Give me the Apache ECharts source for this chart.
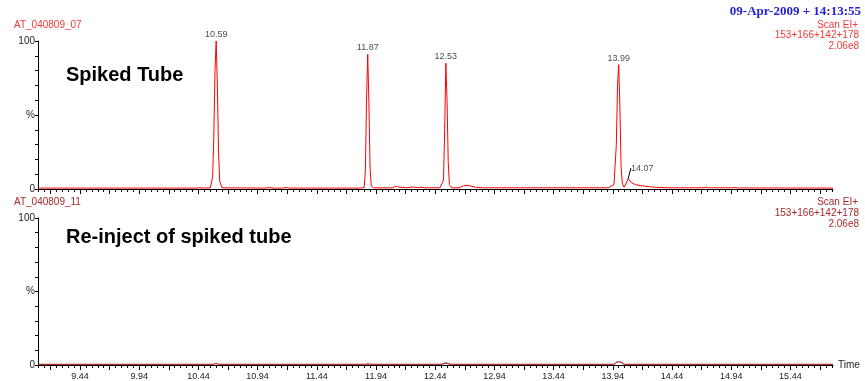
<!DOCTYPE html>
<html>
<head>
<meta charset="utf-8">
<script src="https://cdn.jsdelivr.net/npm/echarts@6/dist/echarts.min.js"></script>
<style>
  html, body { margin: 0; padding: 0; background: #fff; }
  #chart { width: 865px; height: 381px; }
</style>
</head>
<body>
<div id="chart"></div>
<script>
  // spiked tube trace (time in min, % of 2.06e8)
  var topTimes = [9.09, 9.50, 10.00, 10.42, 10.45, 10.48, 10.54, 10.56, 10.57, 10.58, 10.59, 10.60, 10.61, 10.62, 10.64,
    11.00, 11.04, 11.07, 11.15, 11.18, 11.21, 11.80, 11.84, 11.85, 11.86, 11.87, 11.88, 11.89, 11.90, 11.92,
    12.08, 12.11, 12.14, 12.20, 12.25, 12.29, 12.32, 12.35, 12.38, 12.48, 12.51, 12.52, 12.53, 12.54, 12.55, 12.56, 12.58,
    12.64, 12.68, 12.71, 12.74, 12.78, 12.84, 13.00, 13.90, 13.95, 13.97, 13.98, 13.99, 14.00, 14.01, 14.02, 14.035,
    14.05, 14.06, 14.07, 14.085, 14.10, 14.13, 14.17, 14.21, 14.25, 14.29, 14.40, 14.70, 14.72, 14.75, 14.94, 14.97, 15.00, 15.80];
  var topValues = [0.6, 0.6, 0.6, 0.6, 0.9, 0.6, 0.8, 8, 35, 80, 100, 70, 25, 5, 0.8,
    0.6, 1.0, 0.6, 0.6, 1.0, 0.6, 0.6, 1.0, 12, 60, 91, 58, 14, 2, 0.8,
    0.8, 1.8, 1.2, 0.8, 1.4, 1.0, 1.2, 0.8, 0.8, 0.8, 6, 40, 85, 60, 18, 3, 0.8,
    0.8, 2.2, 2.6, 2.0, 1.2, 0.8, 0.8, 0.8, 3, 30, 70, 84, 55, 15, 4, 1.2,
    2.5, 5, 7, 6, 4.2, 3.0, 2.3, 1.9, 1.6, 1.2, 0.8, 0.8, 1.1, 0.8, 0.8, 1.0, 0.7, 0.6];
  // re-injection trace
  var botTimes = [9.09, 10.56, 10.59, 10.62, 11.84, 11.87, 11.90, 12.49, 12.53, 12.57, 13.95, 13.97, 13.99, 14.01, 14.04, 15.80];
  var botValues = [0.4, 0.4, 1.0, 0.4, 0.4, 0.8, 0.4, 0.4, 1.4, 0.4, 0.4, 1.8, 2.4, 1.8, 0.4, 0.4];
  // labelled peaks
  var peakTimes = [10.59, 11.87, 12.53, 13.99];
  var peakValues = [100, 91, 85, 84];
  var smallPeak = [14.07, 7];
  // x tick labels
  var xLabels = [9.44, 9.94, 10.44, 10.94, 11.44, 11.94, 12.44, 12.94, 13.44, 13.94, 14.44, 14.94, 15.44];

  var xMin = 9.085, xMax = 15.80;
  var majorTicks = [];
  xLabels.forEach(function (v) { majorTicks.push(v, +(v + 0.25).toFixed(2)); });
  majorTicks.unshift(9.19);
  var minorTicks = [];
  for (var k = -7; k <= 127; k++) minorTicks.push(+(9.44 + k * 0.05).toFixed(2));

  function zip(a, b) { return a.map(function (t, i) { return [t, b[i]]; }); }

  function majorAxis(grid, showLabels) {
    return {
      type: 'value', gridIndex: grid, min: xMin, max: xMax, position: 'bottom',
      name: showLabels ? 'Time' : '', nameLocation: 'end', nameGap: 5,
      nameTextStyle: { fontSize: 10, color: '#222', fontFamily: 'Liberation Sans' },
      axisLine: { lineStyle: { color: '#000', width: 1 } },
      axisTick: { show: true, length: 5, customValues: majorTicks, lineStyle: { color: '#000' } },
      axisLabel: { show: showLabels, customValues: xLabels, fontSize: 9, color: '#222', margin: 7,
        fontFamily: 'Liberation Sans', formatter: function (v) { return v.toFixed(2); } },
      splitLine: { show: false }
    };
  }
  function minorAxis(grid) {
    return {
      type: 'value', gridIndex: grid, min: xMin, max: xMax, position: 'bottom',
      axisLine: { show: false },
      axisTick: { show: true, length: 3, customValues: minorTicks, lineStyle: { color: '#000' } },
      axisLabel: { show: false }, splitLine: { show: false }
    };
  }
  function yAxis(grid) {
    return {
      type: 'value', gridIndex: grid, min: 0, max: 100, interval: 10,
      axisLine: { show: true, lineStyle: { color: '#000' } },
      axisTick: { show: true, length: 3, lineStyle: { color: '#000' } },
      axisLabel: { fontSize: 10, color: '#222', margin: 3, fontFamily: 'Liberation Sans',
        formatter: function (v) { return v === 0 ? '0' : v === 100 ? '100' : v === 50 ? '%' : ''; } },
      splitLine: { show: false }
    };
  }
  function txt(x, y, s, color, size, align, weight, family) {
    return { type: 'text', x: x, y: y, style: { text: s, fill: color, fontSize: size, align: align || 'left',
      verticalAlign: 'middle', fontWeight: weight || 'normal', fontFamily: family || 'Liberation Sans' } };
  }

  var chart = echarts.init(document.getElementById('chart'));
  chart.setOption({
    animation: false,
    backgroundColor: '#fff',
    grid: [
      { left: 38, right: 32, top: 41, height: 148 },
      { left: 38, right: 32, top: 218, height: 149 }
    ],
    xAxis: [majorAxis(0, false), minorAxis(0), majorAxis(1, true), minorAxis(1)],
    yAxis: [yAxis(0), yAxis(1)],
    graphic: [
      txt(14, 25, 'AT_040809_07', '#f03a3a', 10),
      txt(14, 202, 'AT_040809_11', '#a8282c', 10),
      txt(861, 12, '09-Apr-2009 + 14:13:55', '#2323d8', 13, 'right', 'bold', 'Liberation Serif'),
      txt(858, 25, 'Scan EI+', '#f03a3a', 10, 'right'),
      txt(859, 35, '153+166+142+178', '#f03a3a', 10, 'right'),
      txt(859, 46, '2.06e8', '#f03a3a', 10, 'right'),
      txt(858, 202, 'Scan EI+', '#a8282c', 10, 'right'),
      txt(859, 213, '153+166+142+178', '#a8282c', 10, 'right'),
      txt(859, 224, '2.06e8', '#a8282c', 10, 'right'),
      txt(66, 75, 'Spiked Tube', '#000', 20, 'left', 'bold'),
      txt(66, 237, 'Re-inject of spiked tube', '#000', 20, 'left', 'bold')
    ],
    series: [
      {
        type: 'line', xAxisIndex: 0, yAxisIndex: 0, data: zip(topTimes, topValues),
        showSymbol: false, lineStyle: { color: '#ff0000', width: 1 }, silent: true
      },
      {
        type: 'line', xAxisIndex: 2, yAxisIndex: 1, data: zip(botTimes, botValues),
        showSymbol: false, lineStyle: { color: '#b03030', width: 1.2 }, silent: true
      },
      {
        type: 'scatter', xAxisIndex: 0, yAxisIndex: 0, symbolSize: 0,
        data: zip(peakTimes, peakValues),
        label: { show: true, position: 'top', distance: 2, fontSize: 9, color: '#222',
          fontFamily: 'Liberation Sans', formatter: function (p) { return p.value[0].toFixed(2); } }
      },
      {
        type: 'scatter', xAxisIndex: 0, yAxisIndex: 0, symbolSize: 0,
        data: [smallPeak],
        label: { show: true, position: 'top', distance: 6, fontSize: 9, color: '#222',
          fontFamily: 'Liberation Sans', formatter: function (p) { return p.value[0].toFixed(2); } },
        labelLayout: { dx: 14, dy: 0 },
        labelLine: { show: true, length2: 0, lineStyle: { color: '#000', width: 1 } }
      }
    ]
  });
</script>
</body>
</html>
